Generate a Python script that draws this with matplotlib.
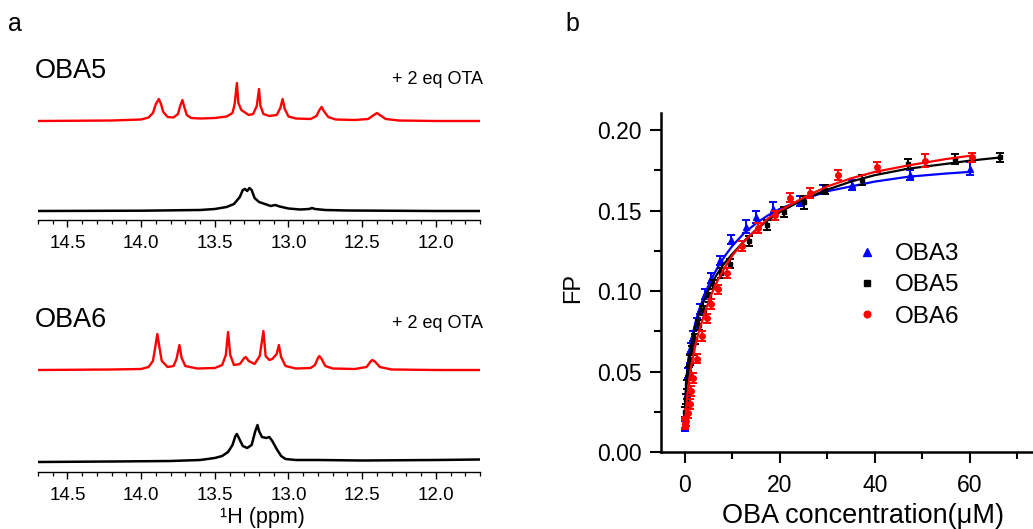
import matplotlib
matplotlib.use("Agg")
import matplotlib.pyplot as plt
from matplotlib.ticker import MultipleLocator

plt.rcParams['font.family'] = ['Liberation Sans', 'DejaVu Sans']

# ---------------- NMR traces (ppm, intensity) ----------------
oba5_ota_ppm = [14.70, 14.20, 14.00, 13.95, 13.92, 13.90, 13.88, 13.865, 13.85, 13.82, 13.78, 13.75,
                13.735, 13.72, 13.705, 13.69, 13.66, 13.60, 13.50, 13.42, 13.38, 13.365, 13.35, 13.34,
                13.32, 13.30, 13.27, 13.24, 13.215, 13.20, 13.19, 13.17, 13.13, 13.08, 13.055, 13.04,
                13.025, 13.00, 12.95, 12.85, 12.81, 12.79, 12.775, 12.76, 12.73, 12.68, 12.55, 12.46,
                12.42, 12.40, 12.38, 12.34, 12.25, 12.00, 11.70]
oba5_ota_int = [0, 0.5, 1.5, 3.5, 8, 17, 22, 17, 9, 4, 3.5, 7,
                15, 21, 13, 6, 3, 2.5, 3, 4.5, 8, 17, 38, 18,
                11, 9, 6, 7, 15, 32, 15, 7, 5, 6, 13, 22,
                12, 4.5, 2.5, 2, 5, 11, 14, 10, 4, 1.5, 1, 2,
                6, 8, 6, 2, 0.5, 0, 0]

oba5_ppm = [14.70, 14.0, 13.6, 13.50, 13.42, 13.37, 13.33, 13.31, 13.295, 13.28, 13.265, 13.25,
            13.23, 13.20, 13.16, 13.12, 13.09, 13.06, 13.0, 12.92, 12.86, 12.84, 12.82, 12.75,
            12.6, 12.0, 11.7]
oba5_int = [0, 0.3, 1, 2, 4, 7, 14, 21, 22, 20, 23, 21,
            13, 9, 7, 5, 6, 4.5, 2.5, 1.5, 2, 3, 2, 1,
            0.5, 0, 0]

oba6_ota_ppm = [14.70, 14.2, 14.0, 13.95, 13.92, 13.905, 13.89, 13.875, 13.86, 13.82, 13.78, 13.76,
                13.74, 13.725, 13.70, 13.62, 13.50, 13.45, 13.425, 13.41, 13.395, 13.37, 13.33, 13.30,
                13.29, 13.27, 13.23, 13.195, 13.17, 13.155, 13.13, 13.11, 13.08, 13.065, 13.05, 13.02,
                12.95, 12.85, 12.82, 12.80, 12.79, 12.775, 12.75, 12.70, 12.55, 12.47, 12.44, 12.43,
                12.41, 12.38, 12.30, 12.0, 11.7]
oba6_ota_int = [0, 0.5, 1, 3, 9, 22, 36, 22, 9, 3, 4, 11,
                25, 12, 4, 1.5, 2, 5, 15, 38, 15, 5, 6, 12,
                13, 9, 6, 14, 39, 14, 10, 11, 16, 25, 13, 4,
                1.5, 2, 5, 12, 14, 11, 4, 1.5, 1, 3, 9, 10,
                8, 3, 0.5, 0, 0]

oba6_ppm = [14.70, 14.2, 13.8, 13.6, 13.5, 13.45, 13.41, 13.38, 13.36, 13.35, 13.34, 13.31,
            13.28, 13.25, 13.225, 13.21, 13.20, 13.18, 13.15, 13.13, 13.11, 13.08, 13.05, 13.02,
            12.95, 12.8, 12.5, 12.0, 11.7]
oba6_int = [-1, -0.5, 0, 1, 3, 5, 9, 16, 25, 27, 24, 15,
            13, 16, 30, 36, 30, 24, 23, 24, 20, 12, 5, 2,
            1, 1, 0.5, 1, 1.5]

nmr_ticks = [14.5, 14.0, 13.5, 13.0, 12.5, 12.0]

# ---------------- FP titration data ----------------
x3 = [0, 0.35, 0.5, 0.7, 1.05, 1.4, 1.75, 2.5, 3.2, 4.2, 5.6, 7.4, 9.8, 12.8, 15.0, 18.5, 24.2, 29.2, 35.1, 47.4, 60.0]
y3 = [0.016, 0.025, 0.036, 0.049, 0.058, 0.065, 0.072, 0.080, 0.089, 0.098, 0.108, 0.119, 0.132, 0.140, 0.146,
      0.151, 0.156, 0.163, 0.166, 0.172, 0.176]
e3 = [0.003, 0.003, 0.003, 0.003, 0.003, 0.003, 0.003, 0.003, 0.003, 0.003, 0.003, 0.003, 0.003, 0.004, 0.004,
      0.004, 0.003, 0.003, 0.003, 0.003, 0.004]

x5 = [0, 0.2, 0.5, 0.8, 1.2, 1.6, 2.2, 3.0, 4.0, 5.0, 6.2, 7.7, 9.5, 13.6, 17.3, 20.8, 25.0, 29.6, 37.3, 47.0,
      56.8, 66.3]
y5 = [0.025, 0.033, 0.042, 0.050, 0.057, 0.063, 0.070, 0.079, 0.088, 0.096, 0.104, 0.111, 0.117, 0.131, 0.141,
      0.149, 0.155, 0.163, 0.169, 0.179, 0.182, 0.183]
e5 = [0.003, 0.003, 0.003, 0.003, 0.003, 0.003, 0.003, 0.003, 0.003, 0.003, 0.003, 0.003, 0.003, 0.003, 0.003,
      0.003, 0.004, 0.003, 0.003, 0.003, 0.003, 0.003]

x6 = [0, 0.15, 0.3, 0.6, 1.0, 1.4, 1.8, 2.5, 3.6, 4.6, 5.6, 7.0, 8.8, 12.0, 15.5, 19.0, 22.1, 26.3, 32.2, 40.4,
      50.5, 60.4]
y6 = [0.017, 0.018, 0.019, 0.024, 0.030, 0.038, 0.046, 0.058, 0.072, 0.083, 0.092, 0.101, 0.111, 0.128, 0.139,
      0.147, 0.158, 0.161, 0.172, 0.177, 0.181, 0.183]
e6 = [0.003, 0.003, 0.003, 0.003, 0.003, 0.003, 0.003, 0.003, 0.003, 0.003, 0.003, 0.003, 0.003, 0.003, 0.003,
      0.003, 0.003, 0.003, 0.003, 0.003, 0.004, 0.003]

# fitted curves
fit3_x = [0, 0.1, 0.2, 0.35, 0.6, 1.0, 1.5, 2.2, 3.0, 4.2, 5.5, 7.0, 8.5, 10, 12.5, 15, 17.5, 20, 25, 30, 35,
          40, 47, 55, 60]
fit3_y = [0.018, 0.028, 0.036, 0.045, 0.054, 0.063, 0.071, 0.080, 0.088, 0.098, 0.107, 0.115, 0.122, 0.128,
          0.136, 0.142, 0.147, 0.151, 0.157, 0.162, 0.165, 0.168, 0.171, 0.173, 0.174]
fit5_x = [0, 0.1, 0.25, 0.5, 0.8, 1.2, 1.8, 2.5, 3.5, 4.9, 6.5, 8, 10, 12.5, 15, 17.5, 20, 25, 30, 35, 40, 47,
          55, 60, 66.5]
fit5_y = [0.020, 0.030, 0.039, 0.048, 0.056, 0.064, 0.073, 0.081, 0.090, 0.100, 0.109, 0.116, 0.123, 0.131,
          0.138, 0.144, 0.149, 0.157, 0.163, 0.168, 0.172, 0.176, 0.179, 0.181, 0.183]
fit6_x = [0, 0.2, 0.5, 0.9, 1.4, 2.0, 2.7, 3.5, 4.5, 5.6, 7.0, 8.5, 10, 12.5, 15, 17.5, 20, 25, 30, 35, 40, 47,
          55, 60]
fit6_y = [0.016, 0.024, 0.034, 0.044, 0.054, 0.063, 0.072, 0.080, 0.089, 0.098, 0.107, 0.115, 0.122, 0.131,
          0.138, 0.145, 0.150, 0.158, 0.165, 0.170, 0.174, 0.178, 0.182, 0.184]

series_names = ['OBA3', 'OBA5', 'OBA6']

# ---------------- figure ----------------
W, H = 1033, 529
fig = plt.figure(figsize=(W / 100, H / 100), dpi=100)


def fx(px):
    return px / W


def fy(py):
    return 1 - py / H


RED = '#ff0000'
BLUE = '#0000ff'


def nmr_axes(top_px, bottom_px, red_ppm, red_int, red_off, blk_ppm, blk_int, blk_off, name, name_y, ota_y):
    ax = fig.add_axes([fx(38), fy(bottom_px), fx(480) - fx(38), fy(top_px) - fy(bottom_px)])
    ax.plot(red_ppm, [v + red_off for v in red_int], color=RED, lw=1.7, solid_joinstyle='round')
    ax.plot(blk_ppm, [v + blk_off for v in blk_int], color='black', lw=1.8, solid_joinstyle='round')
    ax.set_xlim(14.70, 11.70)
    ax.set_ylim(0, bottom_px - top_px)
    for s in ['top', 'left', 'right']:
        ax.spines[s].set_visible(False)
    ax.spines['bottom'].set_linewidth(1.0)
    ax.set_yticks([])
    ax.set_xticks(nmr_ticks)
    ax.set_xticklabels([f"{t:.1f}" for t in nmr_ticks])
    ax.xaxis.set_minor_locator(MultipleLocator(0.1))
    ax.tick_params(axis='x', which='major', direction='out', length=5, width=1.0, labelsize=13.5, pad=6)
    ax.tick_params(axis='x', which='minor', direction='out', length=3, width=0.9)
    ax.patch.set_alpha(0)
    fig.text(fx(35), fy(name_y), name, fontsize=19.5, ha='left', va='center')
    fig.text(fx(483), fy(ota_y), '+ 2 eq OTA', fontsize=13, ha='right', va='center')
    return ax


nmr_axes(60, 220, oba5_ota_ppm, oba5_ota_int, 99, oba5_ppm, oba5_int, 9, 'OBA5', 71, 80)
nmr_axes(312, 472, oba6_ota_ppm, oba6_ota_int, 102, oba6_ppm, oba6_int, 11, 'OBA6', 320, 324)
fig.text(fx(262), fy(517), '¹H (ppm)', fontsize=15.5, ha='center', va='center')

fig.text(fx(15), fy(24), 'a', fontsize=18, ha='center', va='center')
fig.text(fx(572), fy(24), 'b', fontsize=18, ha='center', va='center')

# ---------------- FP panel ----------------
axb = fig.add_axes([fx(661), fy(452), 1 - fx(661), fy(113) - fy(452)])
axb.plot(fit3_x, fit3_y, color=BLUE, lw=1.6, zorder=2)
axb.errorbar(x3, y3, yerr=e3, fmt='^', color=BLUE, ms=5, capsize=3, elinewidth=1.4, capthick=1.4,
             label=series_names[0], zorder=3)
axb.plot(fit5_x, fit5_y, color='black', lw=1.6, zorder=4)
axb.errorbar(x5, y5, yerr=e5, fmt='s', color='black', ms=3.5, capsize=3, elinewidth=1.4, capthick=1.4,
             label=series_names[1], zorder=5)
axb.plot(fit6_x, fit6_y, color=RED, lw=1.6, zorder=6)
axb.errorbar(x6, y6, yerr=e6, fmt='o', color=RED, ms=4, capsize=3, elinewidth=1.4, capthick=1.4,
             label=series_names[2], zorder=7)

axb.set_xlim(-5, 73.3)
axb.set_ylim(0, 0.2106)
axb.set_xticks([0, 20, 40, 60])
axb.set_yticks([0.00, 0.05, 0.10, 0.15, 0.20])
axb.set_yticklabels(['0.00', '0.05', '0.10', '0.15', '0.20'])
axb.xaxis.set_minor_locator(MultipleLocator(10))
axb.yaxis.set_minor_locator(MultipleLocator(0.025))
for s in ['top', 'right']:
    axb.spines[s].set_visible(False)
for s in ['left', 'bottom']:
    axb.spines[s].set_linewidth(1.8)
axb.tick_params(axis='both', which='major', direction='out', length=8, width=1.5, labelsize=16.5)
axb.tick_params(axis='both', which='minor', direction='out', length=5, width=1.5)
axb.tick_params(axis='x', which='major', pad=8)
axb.tick_params(axis='y', which='major', pad=6)
axb.set_xlabel('OBA concentration(μM)', fontsize=19.5)
axb.xaxis.set_label_coords((863 - 661) / (W - 661), -(503 - 452) / (452 - 113))
axb.set_ylabel('FP', fontsize=17)
axb.yaxis.set_label_coords(-(661 - 584) / (W - 661), (452 - 288) / (452 - 113))
axb.patch.set_alpha(0)

handles, labels = axb.get_legend_handles_labels()
handles = [h[0] for h in handles]
leg = axb.legend(handles, labels, loc='upper left', frameon=False, fontsize=17.5,
                 bbox_to_anchor=((852 - 661) / (W - 661), (452 - 243) / (452 - 113)),
                 borderaxespad=0, borderpad=0, handlelength=1.2, handletextpad=0.55, labelspacing=0.38,
                 markerscale=1.2)

fig.savefig('out.png', dpi=100)
